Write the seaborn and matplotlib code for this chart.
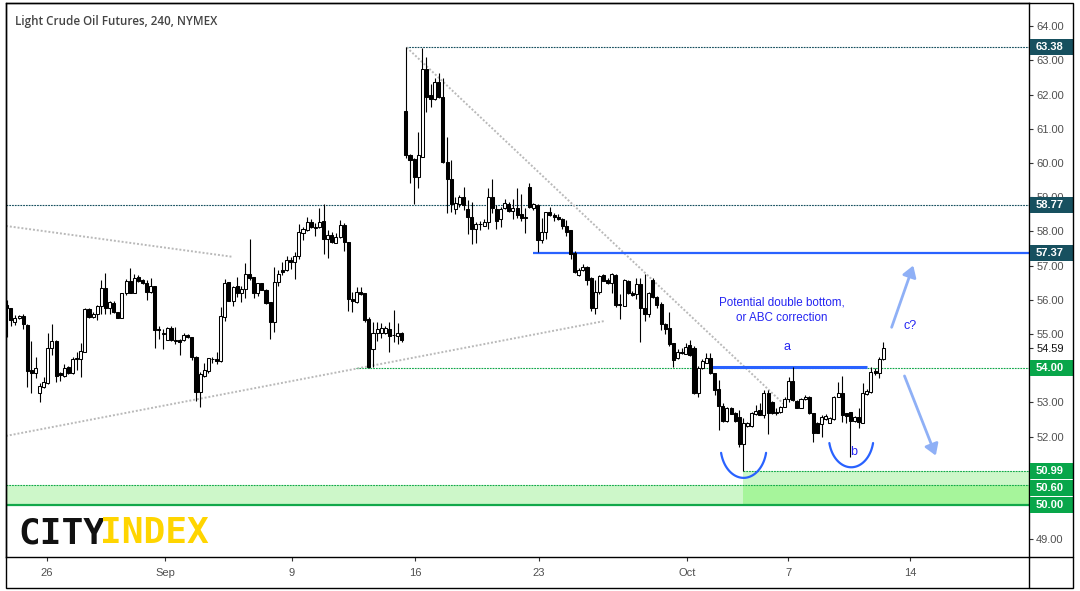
import numpy as np
import pandas as pd
import matplotlib
matplotlib.use("Agg")
import matplotlib.pyplot as plt
import seaborn as sns
from matplotlib.patches import Rectangle, FancyArrowPatch
from matplotlib.transforms import blended_transform_factory
from matplotlib.lines import Line2D

# ---------------- data (4h candles, Light Crude Oil Futures) ----------------
opens = [
    55.85, 55.77, 55.36, 55.46, 55.53, 55.26, 53.95, 53.85, 53.27, 53.44,
    53.56, 54.58, 54.80, 53.85, 53.77, 54.04, 53.85, 54.27, 54.27, 54.48,
    55.73, 55.51, 55.60, 55.82, 56.36, 55.75, 55.90, 55.63, 55.46, 56.19,
    56.56, 56.19, 56.66, 56.58, 56.48, 56.22, 56.40, 55.16, 55.00, 54.82,
    55.19, 54.80, 54.82, 54.82, 54.97, 54.92, 54.34, 53.30, 53.78, 53.93,
    54.26, 54.27, 54.22, 55.51, 56.53, 55.97, 56.40, 56.21, 56.31, 56.77,
    56.66, 56.21, 56.48, 56.29, 55.93, 55.36, 56.51, 56.87, 56.87, 57.16,
    57.10, 57.29, 57.94, 58.04, 58.29, 58.11, 58.12, 58.30, 57.78, 57.90,
    57.67, 57.83, 58.19, 57.68, 56.02, 55.95, 56.24, 56.21, 55.44, 54.55,
    55.02, 55.04, 55.04, 55.14, 54.97, 54.95, 55.04, 61.52, 60.23, 60.12,
    59.60, 60.19, 62.74, 61.99, 61.86, 62.36, 61.92, 60.02, 59.52, 58.65,
    58.80, 59.02, 58.66, 58.41, 58.07, 58.21, 58.17, 58.28, 59.00, 58.67,
    58.35, 58.69, 58.80, 58.61, 58.70, 58.51, 58.41, 59.29, 58.70, 58.77,
    57.75, 57.97, 58.56, 58.48, 58.41, 58.36, 58.16, 58.04, 57.36, 56.72,
    56.87, 56.95, 56.63, 55.75, 56.22, 56.73, 56.58, 56.48, 56.73, 55.86,
    55.83, 56.55, 56.20, 56.16, 56.45, 55.77, 55.60, 56.58, 56.09, 55.88,
    55.29, 55.17, 54.73, 54.29, 54.48, 54.43, 54.68, 54.60, 53.29, 54.00,
    54.16, 54.29, 53.85, 53.38, 52.91, 52.47, 52.83, 52.70, 52.56, 51.78,
    52.31, 52.31, 52.66, 52.78, 52.63, 53.29, 53.02, 52.70, 52.71, 52.88,
    53.09, 53.63, 53.05, 52.85, 53.09, 53.17, 52.68, 52.41, 52.37, 52.51,
    52.41, 52.51, 53.17, 53.29, 52.68, 52.71, 52.47, 52.58, 52.41, 53.25,
    53.31, 53.92, 53.85, 54.26,
]
highs = [
    56.00, 55.77, 55.57, 55.56, 55.60, 55.30, 54.80, 54.32, 53.56, 53.75,
    55.02, 55.29, 54.82, 53.90, 54.12, 54.06, 54.34, 54.48, 54.75, 55.77,
    55.77, 55.65, 55.85, 56.58, 56.79, 55.97, 55.97, 55.65, 56.21, 56.60,
    56.92, 56.77, 56.73, 56.60, 56.58, 56.63, 56.40, 55.24, 55.15, 55.22,
    55.24, 55.22, 54.85, 55.04, 55.00, 54.92, 54.36, 53.90, 54.16, 54.31,
    54.32, 54.46, 55.78, 56.61, 56.53, 56.40, 56.66, 56.40, 57.07, 57.77,
    56.68, 56.50, 56.50, 56.31, 55.94, 56.95, 56.87, 57.12, 57.29, 57.26,
    57.41, 58.22, 58.14, 58.43, 58.35, 58.25, 58.70, 58.80, 58.04, 57.99,
    57.94, 58.33, 58.25, 57.70, 56.24, 56.37, 56.37, 56.21, 55.50, 55.34,
    55.34, 55.31, 55.23, 55.36, 55.70, 55.31, 55.07, 63.38, 60.26, 60.16,
    60.92, 63.36, 63.11, 62.30, 62.48, 62.62, 62.50, 60.77, 60.09, 59.02,
    59.06, 59.29, 58.92, 58.85, 58.28, 58.30, 58.35, 59.26, 59.52, 58.77,
    58.72, 58.94, 58.87, 58.94, 59.26, 59.09, 58.70, 59.41, 58.84, 58.79,
    58.40, 58.58, 58.72, 58.53, 58.50, 58.40, 58.33, 58.04, 57.43, 56.94,
    57.04, 56.99, 56.66, 56.58, 56.73, 56.77, 56.63, 56.79, 56.75, 56.17,
    56.60, 56.58, 56.26, 56.65, 56.65, 56.77, 56.24, 56.63, 56.11, 55.93,
    55.31, 55.65, 54.75, 54.55, 54.58, 54.75, 54.82, 54.65, 54.07, 54.26,
    54.44, 54.45, 53.87, 53.66, 52.97, 52.88, 52.88, 52.73, 52.78, 52.53,
    52.44, 52.73, 52.92, 52.97, 53.36, 53.36, 53.05, 52.83, 52.90, 53.17,
    53.73, 54.05, 53.07, 53.12, 53.22, 53.19, 52.70, 52.44, 52.63, 52.66,
    52.58, 53.19, 53.61, 53.77, 52.70, 52.73, 52.60, 52.85, 53.56, 53.38,
    54.03, 54.00, 54.34, 54.78,
]
lows = [
    54.92, 55.24, 55.26, 55.44, 55.16, 53.46, 53.29, 53.70, 53.00, 53.41,
    53.54, 54.39, 53.61, 53.63, 53.75, 53.83, 53.83, 53.95, 53.73, 54.48,
    55.46, 55.48, 55.41, 55.60, 55.58, 55.60, 55.62, 55.46, 55.46, 56.14,
    56.19, 56.19, 56.53, 56.46, 55.99, 56.21, 54.58, 54.85, 54.55, 54.82,
    54.80, 54.71, 54.39, 54.81, 54.87, 54.24, 53.05, 52.88, 53.75, 53.87,
    54.16, 54.12, 54.19, 55.39, 55.97, 55.82, 56.07, 55.93, 56.04, 56.58,
    56.04, 56.11, 56.29, 55.88, 54.85, 55.05, 56.40, 56.73, 56.85, 56.89,
    56.61, 57.18, 57.75, 58.02, 58.09, 57.87, 58.09, 57.34, 57.23, 57.67,
    57.66, 57.80, 57.43, 55.67, 55.65, 55.92, 56.15, 55.34, 54.00, 54.03,
    54.80, 54.89, 55.00, 54.48, 54.78, 54.70, 54.78, 60.14, 59.43, 58.80,
    59.26, 60.19, 61.50, 61.63, 61.84, 61.89, 59.99, 58.55, 58.58, 58.51,
    58.72, 58.63, 57.92, 57.62, 57.65, 58.04, 58.16, 58.06, 58.55, 58.07,
    58.12, 58.67, 58.58, 58.36, 58.38, 58.31, 57.96, 58.70, 58.63, 57.41,
    57.67, 57.77, 58.46, 58.31, 58.33, 58.06, 57.87, 57.18, 56.79, 56.70,
    56.85, 56.43, 55.68, 55.60, 56.17, 56.55, 56.46, 56.21, 55.80, 55.44,
    55.83, 56.17, 56.11, 56.01, 54.78, 55.39, 55.51, 56.04, 55.75, 55.12,
    54.99, 54.65, 54.03, 54.27, 54.41, 54.41, 54.37, 53.25, 53.15, 53.97,
    54.14, 53.83, 53.22, 52.19, 52.44, 52.44, 52.66, 52.44, 51.71, 50.99,
    52.29, 52.29, 52.63, 52.63, 52.53, 52.08, 52.66, 52.63, 52.68, 52.86,
    53.02, 53.05, 52.83, 52.83, 53.07, 52.66, 51.85, 52.10, 52.00, 52.49,
    52.39, 52.49, 53.15, 52.44, 52.39, 51.41, 52.44, 52.24, 52.39, 53.22,
    53.29, 53.80, 53.70, 54.24,
]
closes = [
    55.75, 55.41, 55.48, 55.53, 55.28, 53.93, 53.85, 54.00, 53.48, 53.61,
    54.58, 54.80, 53.78, 53.80, 54.02, 53.85, 54.27, 54.28, 54.50, 55.73,
    55.49, 55.60, 55.82, 56.36, 55.75, 55.93, 55.63, 55.46, 56.19, 56.56,
    56.20, 56.63, 56.56, 56.48, 56.22, 56.40, 55.13, 55.12, 55.04, 55.19,
    54.82, 54.84, 54.78, 54.97, 54.90, 54.32, 53.30, 53.83, 53.95, 54.29,
    54.27, 54.22, 55.53, 56.48, 55.98, 56.38, 56.21, 56.31, 56.75, 56.63,
    56.19, 56.48, 56.30, 55.92, 55.36, 56.51, 56.75, 56.82, 57.16, 57.10,
    57.29, 57.97, 58.07, 58.29, 58.12, 58.12, 58.29, 57.78, 57.90, 57.68,
    57.83, 58.19, 57.68, 56.01, 55.97, 56.24, 56.17, 55.41, 54.05, 55.04,
    55.15, 55.19, 55.17, 54.95, 54.98, 55.04, 54.83, 60.23, 60.09, 59.60,
    60.23, 62.74, 61.94, 61.86, 62.36, 61.92, 60.04, 59.52, 58.80, 58.82,
    59.02, 58.77, 58.41, 58.07, 58.22, 58.22, 58.28, 59.00, 58.70, 58.31,
    58.67, 58.82, 58.61, 58.70, 58.48, 58.40, 58.40, 58.71, 58.80, 57.75,
    57.97, 58.56, 58.48, 58.41, 58.35, 58.16, 57.99, 57.33, 56.82, 56.87,
    56.95, 56.58, 55.75, 56.22, 56.70, 56.56, 56.48, 56.75, 55.85, 55.87,
    56.58, 56.19, 56.14, 56.45, 55.75, 55.60, 56.21, 56.07, 55.85, 55.29,
    55.15, 54.71, 54.24, 54.48, 54.45, 54.63, 54.39, 53.27, 54.00, 54.22,
    54.29, 53.85, 53.36, 52.91, 52.46, 52.85, 52.67, 52.45, 51.78, 52.41,
    52.41, 52.68, 52.76, 52.64, 53.27, 52.68, 52.68, 52.71, 52.88, 53.09,
    53.64, 53.07, 52.85, 53.09, 53.17, 52.68, 52.12, 52.12, 52.58, 52.60,
    52.53, 53.17, 53.27, 52.63, 52.60, 52.47, 52.58, 52.44, 53.27, 53.33,
    53.88, 53.85, 54.26, 54.59,
]

date_labels = ["26", "Sep", "9", "16", "23", "Oct", "7", "14"]
date_bars = [9.8, 38.5, 69.3, 99.2, 129.3, 165.3, 189.9, 219.5]
price_ticks = [64.0, 63.0, 62.0, 61.0, 60.0, 59.0, 58.0, 57.0, 56.0,
               55.0, 54.0, 53.0, 52.0, 51.0, 50.0, 49.0]
last_price = 54.59

high_level, high_bar = 63.38, 97
mid_level = 58.77
blue_level, blue_bar = 57.37, 128
neck_level, neck_bar = 54.00, 84.9
zone_levels = [50.00, 50.60, 50.99]
zone_bar = 179
a_level, a_start, a_end = 54.04, 171.4, 209.1

trend1_x, trend1_y = [-0.17, 54.75], [58.16, 57.26]
trend2_x, trend2_y = [-0.17, 145.2], [52.02, 55.38]
trend3_x, trend3_y = [97.2, 189.1], [63.38, 52.92]

# ---------------- style ----------------
sns.set_theme(style="white")
plt.rcParams['font.family'] = ['Liberation Sans', 'DejaVu Sans']

df = pd.DataFrame({"bar": np.arange(len(opens)), "open": opens, "high": highs,
                   "low": lows, "close": closes})
df["high"] = df[["high", "open", "close"]].max(axis=1)
df["low"] = df[["low", "open", "close"]].min(axis=1)

W, H = 1080, 591
fig = plt.figure(figsize=(W / 100, H / 100), dpi=100)
L_px, R_px, T_px, B_px = 6, 1029, 3, 557
ax = fig.add_axes([L_px / W, 1 - B_px / H, (R_px - L_px) / W, (B_px - T_px) / H])
x_lo, x_hi = -0.17, 248.4
ax.set_xlim(x_lo, x_hi)
ax.set_ylim(48.48, 64.68)
ax.set_facecolor("white")

# ---------------- zones & levels ----------------
green_light = "#cdf7c9"
green_dark = "#a6f59b"
green_line = "#12a84a"
teal = "#17505f"
blue = "#2962ff"

ax.fill_between([x_lo, zone_bar], zone_levels[0], zone_levels[1], color=green_light, lw=0, zorder=0.5)
ax.fill_between([zone_bar, x_hi], zone_levels[0], zone_levels[1], color=green_dark, lw=0, zorder=0.5)
ax.fill_between([zone_bar, x_hi], zone_levels[1], zone_levels[2], color=green_light, lw=0, zorder=0.5)
dot = (0, (1.6, 0.9))
ax.hlines(zone_levels[2], zone_bar, x_hi, colors=green_line, lw=0.8, linestyles=[dot], zorder=1)
ax.hlines(zone_levels[1], x_lo, x_hi, colors=green_line, lw=0.8, linestyles=[dot], zorder=1)
ax.hlines(zone_levels[0], x_lo, x_hi, colors=green_line, lw=1.6, zorder=1)
ax.hlines(neck_level, neck_bar, x_hi, colors=green_line, lw=0.8, linestyles=[dot], zorder=1)
ax.hlines(high_level, high_bar, x_hi, colors=teal, lw=0.8, linestyles=[dot], zorder=1)
ax.hlines(mid_level, x_lo, x_hi, colors=teal, lw=0.8, linestyles=[dot], zorder=1)
ax.hlines(blue_level, blue_bar, x_hi, colors=blue, lw=1.6, zorder=2)
ax.hlines(a_level, a_start, a_end, colors=blue, lw=2.2, zorder=2)

for tx, ty in [(trend1_x, trend1_y), (trend2_x, trend2_y), (trend3_x, trend3_y)]:
    sns.lineplot(x=tx, y=ty, ax=ax, color="#b9b9b9", lw=1.4,
                 linestyle=(0, (1, 1)), zorder=1.5, legend=False)

# ---------------- candles ----------------
up = df["close"] >= df["open"]
ax.vlines(df["bar"], df["low"], df["high"], colors="black", lw=0.8, zorder=3)
body_w = 0.74
h_up = np.maximum((df["close"] - df["open"])[up], 0.015)
ax.bar(df["bar"][up], h_up, bottom=df["open"][up], width=body_w,
       facecolor="white", edgecolor="black", lw=0.75, zorder=4)
h_dn = np.maximum((df["open"] - df["close"])[~up], 0.015)
ax.bar(df["bar"][~up], h_dn, bottom=df["close"][~up], width=body_w,
       facecolor="black", edgecolor="black", lw=0.75, zorder=4)

# ---------------- annotations ----------------
txt_blue = "#2525f2"
ax.text(188.3, 55.69, "Potential double bottom,\nor ABC correction", color=txt_blue,
        fontsize=8.4, ha="center", va="center", linespacing=1.35, zorder=6)
ax.text(189.7, 54.61, "a", color=txt_blue, fontsize=9, ha="center", va="center", zorder=6)
ax.text(205.9, 51.54, "b", color=txt_blue, fontsize=9, ha="center", va="center", zorder=6)
ax.text(219.5, 55.23, "c?", color=txt_blue, fontsize=9, ha="center", va="center", zorder=6)

arrow_col = "#8fb0f6"
for (x0, y0, x1, y1) in [(214.8, 55.12, 220.5, 57.08), (217.9, 53.85, 226.0, 51.37)]:
    ax.add_patch(FancyArrowPatch((x0, y0), (x1, y1),
                                 arrowstyle="-|>,head_length=0.55,head_width=0.35",
                                 mutation_scale=12, lw=2.0, color=arrow_col, zorder=6))

t = np.linspace(1.07 * np.pi, 1.93 * np.pi, 60)
for cx, cy, rx, ry in [(179.05, 51.73, 5.6, 0.936), (205.2, 52.01, 5.44, 0.906)]:
    ax.plot(cx + rx * np.cos(t), cy + ry * np.sin(t), color=blue, lw=1.6, zorder=5)

# ---------------- axes ----------------
ax.set_xticks(date_bars)
ax.set_xticklabels(date_labels)
yt = price_ticks + [last_price]
ax.yaxis.tick_right()
ax.set_yticks(yt)
ax.set_yticklabels([f"{v:.2f}" for v in yt])
for lbl, v in zip(ax.get_yticklabels(), yt):
    lbl.set_color("#111111" if v == last_price else "#505050")
ax.tick_params(axis="y", which="both", right=True, left=False, direction="out",
               length=3, width=0.8, color="#333333", labelsize=8, pad=2.2)
ax.tick_params(axis="x", which="both", bottom=True, direction="out",
               length=3, width=0.8, color="#333333", labelsize=8, labelcolor="#505050", pad=5)
ax.grid(False)
ax.set_xlabel("")
ax.set_ylabel("")
for s in ax.spines.values():
    s.set_color("black")
    s.set_linewidth(1.0)

# price badges on the right scale
btr = blended_transform_factory(ax.transAxes, ax.transData)
badge_h = 0.47
x_b0 = (R_px + 0.5 - L_px) / (R_px - L_px)
x_b1 = (1073 - L_px) / (R_px - L_px)
x_txt = (1036 - L_px) / (R_px - L_px)
badges = [(63.38, "63.38", teal), (58.77, "58.77", teal), (57.37, "57.37", teal),
          (54.00, "54.00", "#08a64a"), (50.99, "50.99", "#08a64a"),
          (50.50, "50.60", "#08a64a"), (50.00, "50.00", "#08a64a")]
for p, s, c in badges:
    ax.add_patch(Rectangle((x_b0, p - badge_h / 2), x_b1 - x_b0, badge_h, transform=btr,
                           facecolor=c, edgecolor="none", clip_on=False, zorder=7))
    ax.text(x_txt, p, s, transform=btr, color="white", fontsize=8, fontweight="bold",
            ha="left", va="center", clip_on=False, zorder=8)

# outer frame
fig.add_artist(Rectangle((6 / W, 1 - 588 / H), (1073 - 6) / W, (588 - 3) / H,
                         transform=fig.transFigure, fill=False, edgecolor="black", lw=1.0))
fig.add_artist(Line2D([R_px / W, R_px / W], [1 - 588 / H, 1 - B_px / H],
                      transform=fig.transFigure, color="black", lw=1.0))
fig.add_artist(Line2D([R_px / W, 1073 / W], [1 - B_px / H, 1 - B_px / H],
                      transform=fig.transFigure, color="black", lw=1.0))

# title and logo
fig.text(15 / W, 1 - 22 / H, "Light Crude Oil Futures, 240, NYMEX", color="#444444",
         fontsize=8.4, family="Open Sans", fontweight="semibold", ha="left", va="center")
fig.text(18 / W, 1 - 543 / H, "CITY", color="#111111", fontsize=26, family="DejaVu Sans Mono",
         fontweight="bold", ha="left", va="baseline")
fig.text(100 / W, 1 - 543 / H, "INDEX", color="#ffd500", fontsize=26, family="DejaVu Sans Mono",
         fontweight="bold", ha="left", va="baseline")

fig.savefig("out.png", dpi=100)
